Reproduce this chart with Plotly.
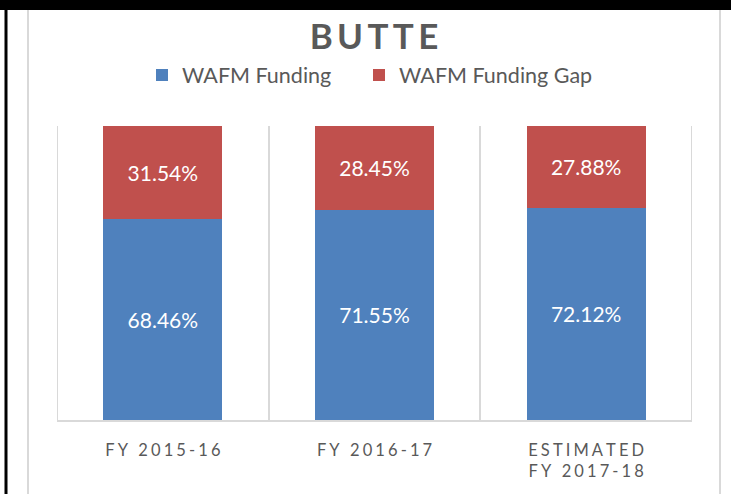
import plotly.graph_objects as go

categories = ["FY 2015-16", "FY 2016-17", "ESTIMATED<br>FY 2017-18"]
funding = [68.46, 71.55, 72.12]
funding_gap = [31.54, 28.45, 27.88]
series_names = ["WAFM Funding", "WAFM Funding Gap"]
title_text = "BUTTE"

BLUE = "#4F81BD"
RED = "#C0504D"
GREY_TXT = "#595959"
GRID = "#D9D9D9"
FONT = "Lato"

W, H = 731, 494
L, R, T, B = 57, 731 - 692, 126, 494 - 420
PW, PH = W - L - R, H - T - B


def spaced(s, sep="\u2009"):
    parts = s.split("<br>")
    out = []
    for p in parts:
        out.append(sep.join(list(p)))
    return "<br>".join(out)


def px_x(px):
    return (px - L) / PW


def px_y(py):
    return (H - B - py) / PH


xs = list(range(len(categories)))

fig = go.Figure()
fig.add_trace(go.Bar(
    x=xs, y=funding, name=series_names[0], marker=dict(color=BLUE, line=dict(width=0)),
    text=[f"{v:.2f}%" for v in funding], textposition="inside", insidetextanchor="middle",
    textfont=dict(color="white", size=21, family=FONT), hoverinfo="skip", legend="legend",
))
fig.add_trace(go.Bar(
    x=xs, y=funding_gap, name=series_names[1], marker=dict(color=RED, line=dict(width=0)),
    text=[f"{v:.2f}%" for v in funding_gap], textposition="inside", insidetextanchor="middle",
    textfont=dict(color="white", size=21, family=FONT), hoverinfo="skip", legend="legend2",
))

shapes = [
    # category boundary lines at the plot edges
    dict(type="line", xref="x", yref="paper", x0=-0.5, x1=-0.5, y0=0, y1=1,
         line=dict(color=GRID, width=2), layer="below"),
    dict(type="line", xref="x", yref="paper", x0=len(categories) - 0.5, x1=len(categories) - 0.5, y0=0, y1=1,
         line=dict(color=GRID, width=2), layer="below"),
    # outer light frame
    dict(type="line", xref="paper", yref="paper", x0=px_x(28), x1=px_x(28), y0=px_y(10), y1=px_y(494),
         line=dict(color=GRID, width=2)),
    dict(type="line", xref="paper", yref="paper", x0=px_x(720), x1=px_x(720), y0=px_y(10), y1=px_y(494),
         line=dict(color=GRID, width=2)),
    # black page border
    dict(type="rect", xref="paper", yref="paper", x0=px_x(0), x1=px_x(731), y0=px_y(10), y1=px_y(0),
         fillcolor="black", line=dict(width=0)),
    dict(type="line", xref="paper", yref="paper", x0=px_x(6), x1=px_x(6), y0=px_y(0), y1=px_y(494),
         line=dict(color="black", width=3)),
]

legend_common = dict(orientation="h", xanchor="left", y=px_y(75), yanchor="middle",
                     font=dict(size=21.5, color=GREY_TXT, family=FONT),
                     itemwidth=30, bgcolor="rgba(0,0,0,0)")

fig.update_layout(
    width=W, height=H,
    margin=dict(l=L, r=R, t=T, b=B, pad=0),
    paper_bgcolor="white", plot_bgcolor="white",
    barmode="stack", bargap=0.4375,
    font=dict(family=FONT, color=GREY_TXT),
    title=dict(text="<b>" + spaced(title_text, "\u2009") + "</b>", x=374 / W, xref="container", xanchor="center",
               y=1 - 37 / H, yref="container", yanchor="middle",
               font=dict(size=35, color=GREY_TXT, family=FONT)),
    legend=dict(x=px_x(142), **legend_common),
    legend2=dict(x=px_x(359), **legend_common),
    xaxis=dict(
        range=[-0.5, len(categories) - 0.5], tickvals=xs,
        ticktext=[spaced(c, "\u2009\u200a") for c in categories],
        showgrid=False, zeroline=False, showline=True, linecolor=GRID, linewidth=2,
        ticks="", tickfont=dict(size=16.5, color=GREY_TXT, family=FONT), ticklabelstandoff=14,
        minor=dict(tickvals=[-0.5, 0.5, 1.5, 2.5], showgrid=True, gridcolor=GRID, gridwidth=2, ticks=""),
        fixedrange=True,
    ),
    yaxis=dict(range=[0, 100], visible=False, showgrid=False, fixedrange=True),
    shapes=shapes,
    showlegend=True,
)

fig.write_html("out.html")
